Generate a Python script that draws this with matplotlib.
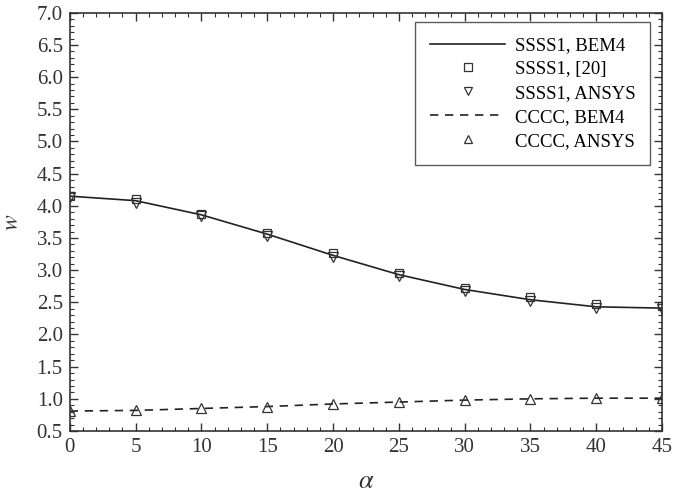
import matplotlib.pyplot as plt
import numpy as np
from matplotlib.ticker import MultipleLocator

plt.rcParams['font.family'] = ['Liberation Serif', 'DejaVu Serif']
plt.rcParams['mathtext.fontset'] = 'stix'

alpha = [0, 5, 10, 15, 20, 25, 30, 35, 40, 45]
ssss_bem = [4.15, 4.08, 3.86, 3.56, 3.23, 2.93, 2.70, 2.54, 2.43, 2.41]
ssss_ref = [4.16, 4.10, 3.88, 3.58, 3.26, 2.96, 2.73, 2.58, 2.48, 2.44]
ssss_ansys = [4.13, 4.05, 3.84, 3.53, 3.21, 2.91, 2.68, 2.52, 2.41, 2.40]
cccc_bem = [0.81, 0.82, 0.85, 0.88, 0.92, 0.95, 0.98, 1.00, 1.01, 1.01]
cccc_ansys = [0.81, 0.82, 0.85, 0.88, 0.92, 0.95, 0.98, 1.00, 1.01, 1.01]

fig = plt.figure(figsize=(6.77, 4.92), dpi=100)
ax = fig.add_axes([0.103, 0.124, 0.875, 0.850])

ax.plot(alpha, ssss_bem, '-', color='#222222', lw=1.2, label='SSSS1, BEM4')
ax.plot(alpha, ssss_ref, 's', mfc='none', mec='#333333', ms=6, mew=0.9, label='SSSS1, [20]')
ax.plot(alpha, ssss_ansys, 'v', mfc='none', mec='#333333', ms=7, mew=0.9, label='SSSS1, ANSYS')
ax.plot(alpha, cccc_bem, '--', color='#222222', lw=1.2, dashes=(5, 4), label='CCCC, BEM4')
ax.plot(alpha, cccc_ansys, '^', mfc='none', mec='#333333', ms=7, mew=0.9, label='CCCC, ANSYS')

ax.set_xlim(0, 45)
ax.set_ylim(0.5, 7.0)
ax.xaxis.set_major_locator(MultipleLocator(5))
ax.xaxis.set_minor_locator(MultipleLocator(1))
ax.yaxis.set_major_locator(MultipleLocator(0.5))
ax.yaxis.set_minor_locator(MultipleLocator(0.1))
ax.yaxis.set_major_formatter(plt.FormatStrFormatter('%.1f'))
ax.tick_params(which='both', direction='in', top=True, right=True, labelsize=15, colors='#333333')
ax.tick_params(which='major', length=6, width=1.0, pad=5)
ax.tick_params(which='minor', length=3, width=0.8)
for s in ax.spines.values():
    s.set_linewidth(1.2)
    s.set_color('#333333')

ax.set_xlabel(r'$\alpha$', fontsize=19, color='#333333', labelpad=10)
ax.set_ylabel(r'$w$', fontsize=17, color='#333333', labelpad=10)

leg = ax.legend(loc='upper right', fontsize=13.5, frameon=True, fancybox=False,
                edgecolor='#333333', handlelength=4.0, handletextpad=0.5,
                borderpad=0.8, labelspacing=0.36, markerscale=0.85,
                borderaxespad=0, bbox_to_anchor=(0.980, 0.978))
leg.get_frame().set_linewidth(1.0)

fig.savefig('out.png', dpi=100)
